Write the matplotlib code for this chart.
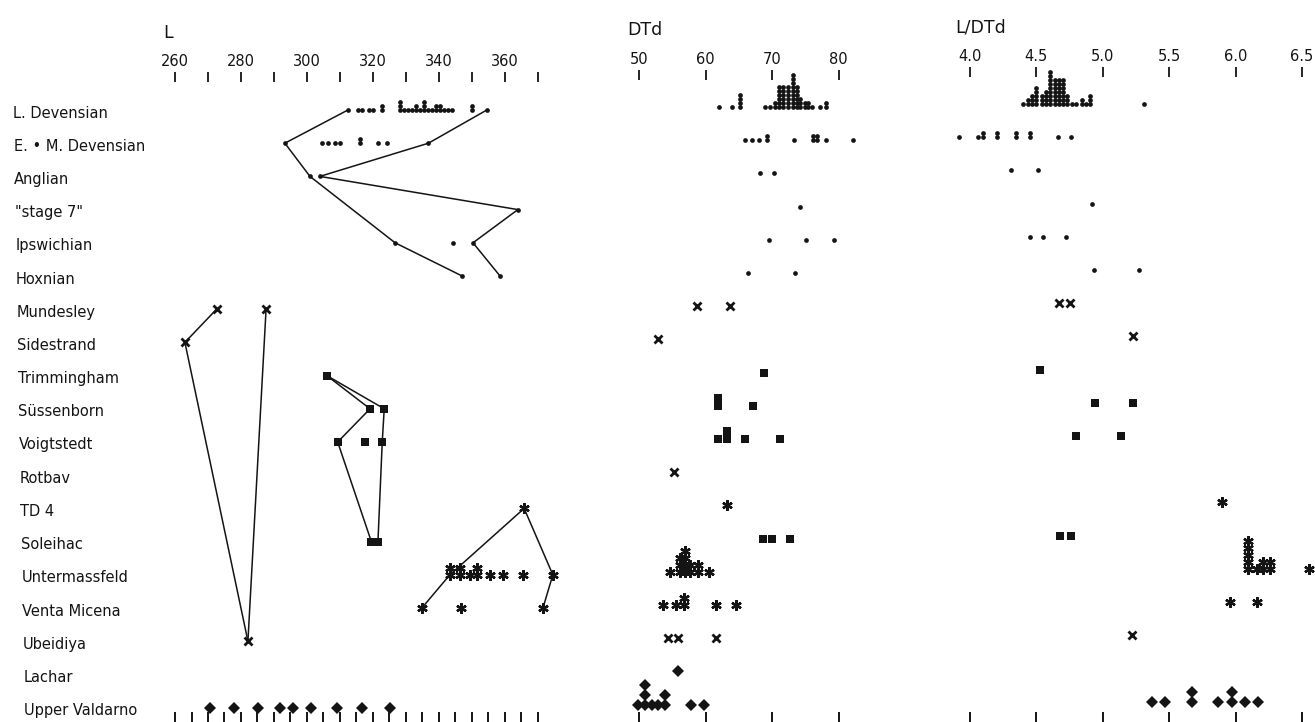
import matplotlib
matplotlib.use('Agg')
import matplotlib.pyplot as plt

''' --->> Data read off the figure <<--- '''
sites = ['L. Devensian', 'E. • M. Devensian', 'Anglian', '"stage 7"', 'Ipswichian',
         'Hoxnian', 'Mundesley', 'Sidestrand', 'Trimmingham', 'Süssenborn',
         'Voigtstedt', 'Rotbav', 'TD 4', 'Soleihac', 'Untermassfeld',
         'Venta Micena', 'Ubeidiya', 'Lachar', 'Upper Valdarno']

symbols = ['dot', 'dot', 'dot', 'dot', 'dot', 'dot', 'cross', 'cross', 'square',
           'square', 'square', 'cross', 'star', 'square', 'star', 'star', 'cross',
           'diamond', 'diamond']

# (value, how many stacked) per site
L_values = {
    'L. Devensian': [(312.4, 1), (315.5, 1), (316.7, 1), (318.8, 1), (320.0, 1), (322.7, 2),
                     (328.2, 3), (329.4, 1), (330.6, 1), (331.8, 1), (333.0, 2), (334.2, 1),
                     (335.5, 3), (336.7, 1), (337.9, 1), (339.1, 2), (340.3, 2), (341.5, 1),
                     (342.6, 1), (343.9, 1), (350.0, 2), (354.5, 1)],
    'E. • M. Devensian': [(293.3, 1), (304.4, 1), (306.5, 1), (308.5, 1), (310.0, 1),
                          (316.0, 2), (321.6, 1), (324.3, 1), (336.8, 1)],
    'Anglian': [(300.9, 1), (303.9, 1)],
    '"stage 7"': [(363.9, 1)],
    'Ipswichian': [(326.7, 1), (344.2, 1), (350.3, 1)],
    'Hoxnian': [(347.0, 1), (358.5, 1)],
    'Mundesley': [(272.6, 1), (287.6, 1)],
    'Sidestrand': [(263.0, 1)],
    'Trimmingham': [(306.0, 1)],
    'Süssenborn': [(319.1, 1), (323.4, 1)],
    'Voigtstedt': [(309.3, 1), (317.6, 1), (322.8, 1)],
    'TD 4': [(365.8, 1)],
    'Soleihac': [(319.5, 1), (321.5, 1)],
    'Untermassfeld': [(343.3, 2), (346.4, 2), (349.4, 1), (351.5, 2), (355.5, 1),
                      (359.4, 1), (365.5, 1), (374.5, 1)],
    'Venta Micena': [(334.8, 1), (346.7, 1), (371.5, 1)],
    'Ubeidiya': [(282.1, 1)],
    'Upper Valdarno': [(270.6, 1), (277.9, 1), (285.2, 1), (291.8, 1), (295.8, 1),
                       (301.2, 1), (309.1, 1), (316.7, 1), (325.2, 1)],
}

DTd_values = {
    'L. Devensian': [(62.1, 1), (64.0, 1), (65.2, 4), (68.9, 1), (69.7, 1), (70.5, 2),
                     (71.1, 6), (71.7, 6), (72.4, 6), (73.1, 9), (73.7, 6), (74.2, 3),
                     (74.9, 2), (75.4, 2), (76.0, 1), (77.2, 1), (78.1, 2)],
    'E. • M. Devensian': [(66.0, 1), (67.0, 1), (68.0, 1), (69.2, 2), (73.3, 1), (76.1, 2),
                          (76.7, 2), (78.1, 1), (82.2, 1)],
    'Anglian': [(68.2, 1), (70.3, 1)],
    '"stage 7"': [(74.2, 1)],
    'Ipswichian': [(69.5, 1), (75.1, 1), (79.3, 1)],
    'Hoxnian': [(66.4, 1), (73.5, 1)],
    'Mundesley': [(58.7, 1), (63.7, 1)],
    'Sidestrand': [(52.8, 1)],
    'Trimmingham': [(68.8, 1)],
    'Süssenborn': [(61.9, 2), (67.1, 1)],
    'Voigtstedt': [(61.9, 1), (63.2, 2), (66.0, 1), (71.2, 1)],
    'Rotbav': [(55.3, 1)],
    'TD 4': [(63.3, 1)],
    'Soleihac': [(68.7, 1), (70.0, 1), (72.7, 1)],
    'Untermassfeld': [(54.6, 1), (56.2, 3), (56.9, 4), (57.7, 2), (58.9, 2), (60.5, 1)],
    'Venta Micena': [(53.6, 1), (55.6, 1), (56.8, 2), (61.6, 1), (64.6, 1)],
    'Ubeidiya': [(54.4, 1), (55.8, 1), (61.6, 1)],
    'Lachar': [(55.8, 1)],
    'Upper Valdarno': [(49.9, 1), (50.9, 3), (51.9, 1), (52.9, 1), (53.9, 2), (57.8, 1),
                       (59.8, 1)],
}

ratio_values = {
    'L. Devensian': [(4.40, 1), (4.44, 2), (4.47, 3), (4.50, 5), (4.54, 3), (4.57, 4),
                     (4.60, 9), (4.64, 7), (4.67, 7), (4.70, 7), (4.73, 3), (4.77, 1),
                     (4.80, 1), (4.84, 2), (4.87, 1), (4.90, 3), (5.31, 1)],
    'E. • M. Devensian': [(3.92, 1), (4.06, 1), (4.10, 2), (4.20, 2), (4.35, 2), (4.45, 2),
                          (4.66, 1), (4.76, 1)],
    'Anglian': [(4.31, 1), (4.51, 1)],
    '"stage 7"': [(4.92, 1)],
    'Ipswichian': [(4.45, 1), (4.55, 1), (4.72, 1)],
    'Hoxnian': [(4.93, 1), (5.27, 1)],
    'Mundesley': [(4.67, 1), (4.75, 1)],
    'Sidestrand': [(5.23, 1)],
    'Trimmingham': [(4.53, 1)],
    'Süssenborn': [(4.94, 1), (5.23, 1)],
    'Voigtstedt': [(4.80, 1), (5.14, 1)],
    'TD 4': [(5.90, 1)],
    'Soleihac': [(4.68, 1), (4.76, 1)],
    'Untermassfeld': [(6.09, 5), (6.16, 1), (6.21, 2), (6.26, 2), (6.55, 1)],
    'Venta Micena': [(5.96, 1), (6.16, 1)],
    'Ubeidiya': [(5.22, 1)],
    'Upper Valdarno': [(5.37, 1), (5.47, 1), (5.67, 2), (5.87, 1), (5.97, 2), (6.07, 1),
                       (6.17, 1)],
}

# range lines in the L panel: (sites joined, 'min' or 'max')
L_lines = [
    (['L. Devensian', 'E. • M. Devensian', 'Anglian', 'Ipswichian', 'Hoxnian'], 'min'),
    (['L. Devensian', 'E. • M. Devensian', 'Anglian', '"stage 7"', 'Ipswichian', 'Hoxnian'], 'max'),
    (['Mundesley', 'Sidestrand', 'Ubeidiya'], 'min'),
    (['Mundesley', 'Ubeidiya'], 'max'),
    (['Trimmingham', 'Süssenborn', 'Voigtstedt', 'Soleihac'], 'min'),
    (['Trimmingham', 'Süssenborn', 'Voigtstedt', 'Soleihac'], 'max'),
    (['TD 4', 'Untermassfeld', 'Venta Micena'], 'min'),
    (['TD 4', 'Untermassfeld', 'Venta Micena'], 'max'),
]

L_major = [260, 280, 300, 320, 340, 360]
L_minor = [270, 290, 310, 330, 350, 370]
L_bottom = list(range(260, 375, 5))
DTd_major = [50, 60, 70, 80]
ratio_major = [4.0, 4.5, 5.0, 5.5, 6.0, 6.5]
ratio_labels = ['4.0', '4.5', '5.0', '5.5', '6.0', '6.5']

''' --->> Styles <<--- '''
W, H = 1315, 722
ROW = 33.2
INK = '#141414'
styles = {
    'dot': dict(marker='o', ms=3.4, mew=0, step=4),
    'cross': dict(marker='x', ms=5.5, mew=2.0, step=7),
    'square': dict(marker='s', ms=6.4, mew=0, step=8),
    'star': dict(marker=(6, 2, 0), ms=7.5, mew=1.7, step=7),
    'diamond': dict(marker='D', ms=6.0, mew=0, step=10),
}

plt.rcParams['font.family'] = ['DejaVu Sans']
fig = plt.figure(figsize=(W / 100, H / 100), dpi=100)


def make_panel(left, right, top, base, v0, p0, ppu):
    ax = fig.add_axes([left / W, 0, (right - left) / W, (H - top) / H])
    ax.set_xlim(v0 + (left - p0) / ppu, v0 + (right - p0) / ppu)
    ax.set_ylim((H - base) / ROW, (top - base) / ROW)
    for s in ax.spines.values():
        s.set_visible(False)
    ax.set_yticks([])
    ax.patch.set_alpha(0)
    return ax


def top_ticks(ax, major, labels, minor=None):
    sec = ax.secondary_xaxis('top')
    sec.set_xticks(major, labels)
    if minor:
        sec.set_xticks(minor, minor=True)
    sec.tick_params(which='both', direction='out', length=7.5, width=1.3,
                    pad=1.5, labelsize=10.5, color=INK, labelcolor=INK)
    sec.spines['top'].set_visible(False)


def bottom_ticks(ax, ticks):
    ax.set_xticks(ticks)
    ax.tick_params(axis='x', direction='in', length=7, width=1.4,
                   labelbottom=False, color=INK)


def draw_points(ax, data):
    for k, site in enumerate(sites):
        if site not in data:
            continue
        st = styles[symbols[k]]
        xs, ys = [], []
        for v, n in data[site]:
            for lev in range(n):
                xs.append(v)
                ys.append(k - lev * st['step'] / ROW)
        ax.plot(xs, ys, ls='none', marker=st['marker'], ms=st['ms'],
                mew=st['mew'], color=INK, clip_on=False)


''' --->> L panel <<--- '''
axL = make_panel(150, 575, 82, 110, 260, 175, 3.3)
top_ticks(axL, L_major, [str(v) for v in L_major], L_minor)
bottom_ticks(axL, L_bottom)
for path, side in L_lines:
    xs, ys = [], []
    for site in path:
        vals = [v for v, n in L_values[site]]
        xs.append(min(vals) if side == 'min' else max(vals))
        ys.append(sites.index(site))
    axL.plot(xs, ys, color=INK, lw=1.1, clip_on=False)
draw_points(axL, L_values)

''' --->> DTd panel <<--- '''
axD = make_panel(600, 890, 80, 107, 50, 639, 6.65)
top_ticks(axD, DTd_major, [str(v) for v in DTd_major])
bottom_ticks(axD, DTd_major)
draw_points(axD, DTd_values)

''' --->> L/DTd panel <<--- '''
axR = make_panel(925, 1315, 77, 104, 4.0, 970, 132.8)
top_ticks(axR, ratio_major, ratio_labels)
bottom_ticks(axR, ratio_major)
draw_points(axR, ratio_values)

''' --->> Titles and site names <<--- '''
fig.text(163 / W, 1 - 38 / H, 'L', fontsize=12.5, color=INK, va='baseline')
fig.text(627 / W, 1 - 35 / H, 'DTd', fontsize=12.5, color=INK, va='baseline')
fig.text(955 / W, 1 - 32 / H, 'L/DTd', fontsize=12.5, color=INK, va='baseline')

for k, site in enumerate(sites):
    fig.text((13 + 0.6 * k) / W, 1 - (113 + ROW * k) / H, site, fontsize=10.5,
             color=INK, va='center', ha='left')

fig.savefig('out.png', dpi=100, facecolor='white')
